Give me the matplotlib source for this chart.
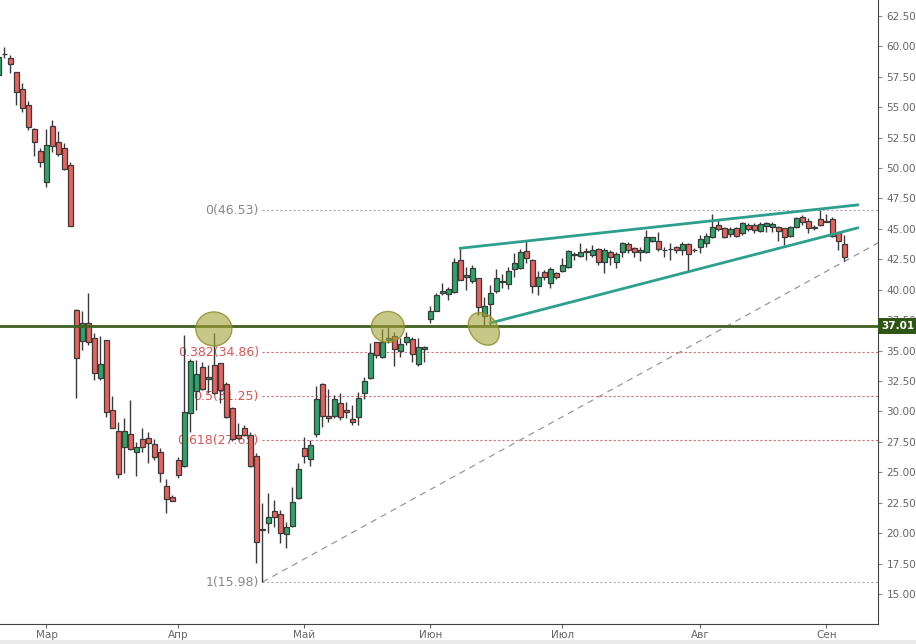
import matplotlib
matplotlib.use("Agg")
import matplotlib.pyplot as plt
import matplotlib.transforms as mtransforms
from matplotlib.patches import Ellipse, Rectangle

# daily candles (one trading day per slot)
opens = [57.65, 59.35, 59.02, 57.87, 56.48, 55.16, 53.21, 51.41, 48.88, 53.44,
         52.12, 51.65, 50.25, 38.34, 35.82, 37.25, 36.01, 32.77, 35.85, 30.12,
         28.39, 27.11, 28.12, 26.69, 27.71, 27.80, 27.33, 26.64, 23.87, 22.95,
         26.01, 25.54, 29.85, 31.71, 33.63, 32.64, 33.84, 33.96, 32.23, 30.31,
         28.07, 28.62, 28.07, 26.34, 20.30, 20.86, 21.85, 21.55, 19.90, 20.59,
         22.86, 26.97, 26.07, 28.12, 32.23, 29.63, 29.63, 30.67, 30.12, 29.38,
         29.52, 31.49, 32.77, 35.68, 34.45, 35.87, 36.20, 34.97, 35.68, 35.96,
         33.88, 35.11, 37.57, 38.28, 39.74, 39.65, 39.79, 42.45, 41.08, 40.72,
         40.94, 37.87, 38.81, 39.90, 40.62, 40.45, 41.68, 41.77, 43.21, 42.45,
         40.34, 41.44, 40.53, 41.36, 41.57, 41.85, 42.86, 42.78, 43.13, 42.86,
         43.33, 42.31, 43.08, 42.26, 43.08, 43.74, 43.41, 43.08, 43.13, 44.03,
         44.03, 43.27, 43.35, 43.54, 43.27, 43.74, 43.27, 43.49, 43.82, 44.31,
         45.32, 45.10, 44.56, 45.05, 44.64, 45.30, 45.32, 44.86, 45.27, 45.14,
         45.14, 45.05, 44.44, 45.14, 45.96, 45.68, 45.10, 45.79, 45.60, 45.79,
         44.64, 43.76]
highs = [59.30, 59.95, 59.29, 57.90, 57.02, 55.51, 53.32, 51.63, 53.21, 53.95,
         53.05, 52.04, 50.53, 38.40, 38.26, 39.71, 36.42, 36.20, 35.90, 31.27,
         29.16, 29.49, 30.94, 27.52, 28.62, 28.34, 27.71, 26.97, 24.43, 23.14,
         26.23, 36.28, 34.30, 34.23, 34.09, 33.84, 36.42, 34.00, 32.45, 30.40,
         29.03, 28.89, 28.34, 26.56, 22.50, 23.27, 22.72, 21.90, 20.94, 23.82,
         25.74, 27.93, 27.66, 32.09, 32.30, 31.82, 31.35, 31.50, 30.80, 30.53,
         31.63, 32.86, 35.60, 35.70, 36.75, 37.02, 36.56, 36.01, 36.56, 36.14,
         36.01, 35.40, 38.67, 39.76, 40.53, 40.25, 42.59, 43.41, 41.90, 42.04,
         41.00, 39.43, 40.39, 41.68, 41.30, 41.90, 43.00, 43.33, 44.01, 42.50,
         41.57, 41.60, 41.90, 41.49, 42.59, 43.27, 43.13, 43.82, 43.41, 43.68,
         43.40, 43.41, 43.27, 43.13, 43.95, 43.95, 43.54, 43.54, 44.91, 44.36,
         44.77, 43.54, 43.82, 43.60, 43.95, 43.80, 43.40, 44.50, 44.69, 46.23,
         45.74, 45.15, 45.19, 45.19, 45.60, 45.51, 45.50, 45.60, 45.60, 45.55,
         45.24, 45.10, 45.20, 46.01, 46.15, 45.88, 45.32, 46.53, 46.23, 46.01,
         44.70, 44.50]
lows = [57.40, 59.05, 57.79, 55.19, 54.64, 53.13, 51.02, 50.12, 48.47, 51.30,
        51.00, 49.84, 45.20, 31.11, 35.05, 35.46, 32.59, 32.59, 29.57, 28.62,
        24.56, 24.97, 26.83, 24.70, 26.69, 25.74, 26.01, 24.23, 21.68, 22.60,
        24.56, 25.46, 28.34, 30.12, 31.80, 31.50, 31.45, 30.67, 29.44, 27.60,
        27.70, 28.00, 25.40, 17.52, 15.98, 20.00, 20.53, 19.17, 18.75, 20.50,
        22.80, 25.74, 25.54, 27.93, 28.75, 29.16, 29.44, 29.30, 29.50, 28.89,
        28.90, 31.00, 32.70, 34.37, 34.40, 35.60, 33.74, 34.50, 35.46, 34.09,
        33.74, 34.09, 37.24, 38.25, 39.57, 39.16, 39.74, 40.80, 39.98, 40.53,
        37.93, 37.02, 37.10, 39.71, 40.12, 40.10, 41.08, 41.70, 42.23, 39.76,
        39.57, 40.80, 40.12, 40.89, 41.49, 41.77, 42.45, 42.72, 42.45, 42.72,
        42.04, 41.41, 42.04, 41.77, 42.72, 43.00, 42.72, 42.39, 43.00, 43.95,
        43.21, 42.72, 42.45, 43.05, 42.86, 41.49, 43.10, 43.00, 43.54, 44.23,
        44.86, 44.23, 44.36, 44.36, 44.50, 44.86, 44.64, 44.77, 44.77, 44.77,
        44.03, 43.68, 44.36, 45.05, 45.32, 44.64, 44.91, 45.27, 45.55, 44.36,
        43.27, 42.39]
closes = [59.13, 59.38, 58.53, 56.28, 54.91, 53.40, 52.17, 50.53, 51.90, 51.84,
          51.13, 49.95, 45.27, 34.39, 37.25, 35.73, 33.19, 33.88, 29.98, 28.67,
          24.84, 28.42, 26.92, 27.06, 27.11, 27.38, 26.28, 24.92, 22.78, 22.67,
          24.78, 29.93, 34.15, 33.05, 31.82, 32.81, 31.50, 31.76, 29.57, 27.71,
          27.80, 28.07, 25.54, 19.30, 20.26, 21.30, 21.35, 19.99, 20.48, 22.54,
          25.25, 26.36, 27.24, 31.02, 29.65, 29.44, 31.02, 29.57, 29.93, 29.16,
          31.08, 32.50, 34.78, 34.64, 35.73, 36.01, 35.11, 35.54, 36.14, 34.70,
          35.27, 35.32, 38.28, 39.57, 39.90, 40.04, 42.26, 40.80, 41.22, 41.76,
          38.56, 38.69, 39.76, 40.94, 40.72, 41.54, 42.23, 43.13, 42.59, 40.31,
          41.03, 41.03, 41.68, 41.08, 42.01, 43.19, 42.90, 43.08, 43.15, 43.27,
          42.31, 43.27, 42.72, 42.94, 43.82, 43.27, 43.13, 43.27, 44.31, 44.31,
          43.33, 43.28, 43.36, 43.27, 43.74, 42.94, 43.28, 44.15, 44.42, 45.14,
          45.00, 44.36, 44.97, 44.44, 45.46, 44.97, 44.91, 45.38, 45.46, 45.38,
          44.86, 44.36, 45.14, 45.88, 45.60, 45.05, 45.11, 45.32, 45.61, 44.42,
          44.03, 42.67]

# month labels sit on the first trading day of each month
month_idx = [8, 30, 51, 72, 94, 117, 138]
month_labels = ["Мар", "Апр", "Май", "Июн", "Июл", "Авг", "Сен"]

# fibonacci levels (drawn from the low at day 44 to the high)
fib_ratios = ["0", "0.382", "0.5", "0.618", "1"]
fib_values = [46.53, 34.86, 31.25, 27.65, 15.98]
fib_start = 44

level_price = 37.01

# trendlines: (day, price) pairs
wedge_upper = [(77, 43.41), (143.2, 46.97)]
wedge_lower = [(82, 37.27), (143.2, 45.08)]
support_line = [(44, 15.98), (146.6, 43.85)]

# marked touches of the 37 level: day, price, width px, height px, angle
marks = [(35.9, 36.78, 36, 34, 0), (64.9, 36.94, 33, 31, 0), (80.9, 36.78, 36, 27, -50)]


def main():
    fig = plt.figure(figsize=(9.16, 6.44), dpi=100)
    ax = fig.add_axes([0.0, 20 / 644, 878 / 916, 624 / 644])

    up_col, dn_col = "#2aa66a", "#e8615c"
    edge = "#3a3a3a"
    idx = list(range(len(opens)))

    ax.vlines(idx, lows, highs, color=edge, linewidth=1, zorder=3)
    bottoms = [min(o, c) for o, c in zip(opens, closes)]
    heights = [max(abs(c - o), 0.02) for o, c in zip(opens, closes)]
    colours = [up_col if c >= o else dn_col for o, c in zip(opens, closes)]
    ax.bar(idx, heights, bottom=bottoms, width=0.72, color=colours,
           edgecolor=edge, linewidth=0.9, zorder=4)

    # fib levels
    xmax = 146.6
    for r, v in zip(fib_ratios, fib_values):
        col = "#aaaaaa" if r in ("0", "1") else "#e06b6b"
        tcol = "#888888" if r in ("0", "1") else "#e05252"
        ax.plot([fib_start, xmax], [v, v], linestyle=(0, (2, 2)), color=col,
                linewidth=0.8, zorder=1)
        ax.text(fib_start - 0.6, v, "%s(%.2f)" % (r, v), ha="right", va="center",
                fontsize=9, color=tcol, zorder=2)

    # trend lines
    ax.plot(*zip(*support_line), color="#999999", linestyle=(0, (5, 4)),
            linewidth=0.9, zorder=2)
    ax.plot(*zip(*wedge_upper), color="#2e9f8c", linewidth=2, zorder=5)
    ax.plot(*zip(*wedge_lower), color="#2e9f8c", linewidth=2, zorder=5)

    ax.axhline(level_price, color="#40601f", linewidth=2, zorder=5)

    ax.set_xlim(0.25, xmax)
    ax.set_ylim(12.53, 63.81)

    for spine in ("top", "left"):
        ax.spines[spine].set_visible(False)
    ax.spines["right"].set_color("#444444")
    ax.spines["bottom"].set_color("#444444")

    ax.yaxis.tick_right()
    ax.set_yticks([15 + 2.5 * k for k in range(20)])
    ax.set_yticklabels(["%.2f" % (15 + 2.5 * k) for k in range(20)])
    ax.tick_params(axis="y", colors="#666666", labelsize=7.5, length=3, pad=3)
    ax.tick_params(axis="y", which="both", color="#888888")
    ax.set_xticks(month_idx)
    ax.set_xticklabels(month_labels)
    ax.tick_params(axis="x", colors="#666666", labelsize=7.5, length=3, pad=1)

    # price tag of the level
    ax.text(1.004, level_price, "%.2f" % level_price, transform=mtransforms.blended_transform_factory(ax.transAxes, ax.transData),
            ha="left", va="center", fontsize=7.5, color="white", fontweight="bold",
            clip_on=False, zorder=10,
            bbox=dict(boxstyle="square,pad=0.3", fc="#2e5516", ec="none"))

    # ellipses drawn in pixel space so they keep their shape
    for xi, yp, w, h, ang in marks:
        cx, cy = ax.transData.transform((xi, yp))
        el = Ellipse((cx, cy), w, h, angle=ang, transform=mtransforms.IdentityTransform(),
                     facecolor=(0.64, 0.64, 0.22, 0.6), edgecolor=(0.55, 0.55, 0.15, 0.8),
                     linewidth=1, zorder=6)
        fig.add_artist(el)

    fig.add_artist(Rectangle((0, 0), 1, 4 / 644, transform=fig.transFigure,
                             facecolor="#e9e9e9", edgecolor="none"))

    fig.savefig("out.png", dpi=100)


if __name__ == "__main__":
    main()
